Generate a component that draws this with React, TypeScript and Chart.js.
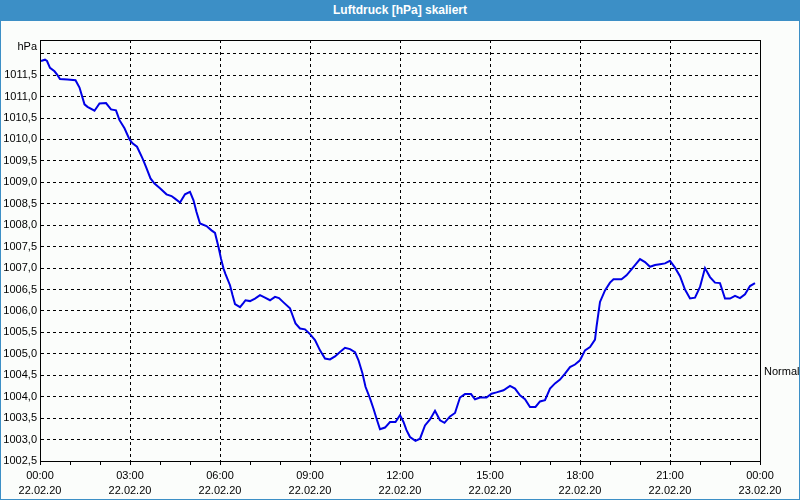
import React, { useEffect, useRef } from 'react';
import { Chart, registerables } from 'chart.js';

Chart.register(...registerables);

const TITLE = 'Luftdruck [hPa] skaliert';
const UNIT = 'hPa';
const NORMAL_LABEL = 'Normal';
const NORMAL_VALUE = 1004.57;
const Y_MIN = 1002.5;
const Y_MAX = 1012.32;
const Y_STEP = 0.5;

const timeLabels = ['00:00', '03:00', '06:00', '09:00', '12:00', '15:00', '18:00', '21:00', '00:00'];
const dateLabels = ['22.02.20', '22.02.20', '22.02.20', '22.02.20', '22.02.20', '22.02.20', '22.02.20', '22.02.20', '23.02.20'];

// minutes since 22.02.20 00:00
const minutes = [
  2, 10, 14, 20, 29, 35, 40, 55, 71, 79, 89, 95, 109, 119, 132, 142, 152, 159, 169, 179,
  185, 194, 205, 212, 221, 229, 240, 253, 263, 270, 280, 290, 300, 307, 313, 320, 333, 343, 350, 357,
  362, 367, 371, 380, 385, 390, 400, 407, 411, 420, 430, 440, 450, 460, 470, 478, 487, 500, 505, 511,
  520, 530, 540, 550, 560, 570, 580, 590, 600, 610, 620, 630, 637, 645, 651, 660, 667, 673, 680, 690,
  700, 711, 720, 727, 733, 740, 751, 760, 770, 780, 790, 800, 809, 820, 830, 840, 850, 862, 870, 880,
  893, 903, 913, 927, 940, 950, 960, 970, 980, 991, 1000, 1010, 1020, 1030, 1040, 1050, 1060, 1070, 1080, 1090,
  1100, 1110, 1113, 1120, 1130, 1140, 1147, 1163, 1173, 1183, 1190, 1200, 1210, 1220, 1230, 1240, 1250, 1260, 1270, 1280,
  1290, 1300, 1310, 1320, 1330, 1340, 1350, 1360, 1370, 1380, 1390, 1400, 1410, 1420, 1430,
];

const pressure = [
  1011.83, 1011.86, 1011.83, 1011.67, 1011.59, 1011.5, 1011.41, 1011.4, 1011.38, 1011.21, 1010.82, 1010.76, 1010.67, 1010.84, 1010.85, 1010.7, 1010.68, 1010.45, 1010.26, 1010.0,
  1009.91, 1009.83, 1009.56, 1009.36, 1009.09, 1008.97, 1008.86, 1008.72, 1008.68, 1008.62, 1008.53, 1008.72, 1008.78, 1008.58, 1008.31, 1008.04, 1007.98, 1007.88, 1007.82, 1007.49,
  1007.22, 1006.99, 1006.86, 1006.6, 1006.37, 1006.16, 1006.09, 1006.19, 1006.25, 1006.23, 1006.29, 1006.37, 1006.31, 1006.25, 1006.33, 1006.3, 1006.2, 1006.06, 1005.9, 1005.71,
  1005.59, 1005.57, 1005.46, 1005.32, 1005.08, 1004.89, 1004.87, 1004.94, 1005.04, 1005.14, 1005.11, 1005.04, 1004.85, 1004.54, 1004.23, 1003.96, 1003.72, 1003.49, 1003.24, 1003.28,
  1003.41, 1003.41, 1003.57, 1003.41, 1003.22, 1003.06, 1002.97, 1003.02, 1003.33, 1003.47, 1003.67, 1003.45, 1003.39, 1003.54, 1003.62, 1003.98, 1004.06, 1004.06, 1003.94, 1003.98,
  1003.98, 1004.07, 1004.1, 1004.15, 1004.25, 1004.19, 1004.03, 1003.94, 1003.76, 1003.76, 1003.89, 1003.92, 1004.19, 1004.31, 1004.4, 1004.54, 1004.69, 1004.75, 1004.85, 1005.08,
  1005.16, 1005.33, 1005.63, 1006.21, 1006.48, 1006.66, 1006.74, 1006.74, 1006.83, 1006.97, 1007.07, 1007.21, 1007.14, 1007.03, 1007.07, 1007.09, 1007.11, 1007.17, 1007.01, 1006.81,
  1006.5, 1006.29, 1006.31, 1006.56, 1007.0, 1006.79, 1006.66, 1006.65, 1006.29, 1006.29, 1006.35, 1006.3, 1006.39, 1006.58, 1006.65,
];

const FONT = 'Liberation Sans';

const framePlugin = {
  id: 'frameAndLabels',
  afterDraw(chart: any) {
    const { ctx, chartArea } = chart;
    const l = Math.round(chartArea.left);
    const t = Math.round(chartArea.top);
    const r = Math.round(chartArea.right);
    const b = Math.round(chartArea.bottom);
    ctx.save();
    ctx.setLineDash([]);
    ctx.strokeStyle = '#000';
    ctx.lineWidth = 1;
    ctx.strokeRect(l + 0.5, t + 0.5, r - l, b - t);
    ctx.fillStyle = '#000';
    ctx.font = `11px "${FONT}"`;
    ctx.textBaseline = 'middle';
    ctx.textAlign = 'right';
    ctx.fillText(UNIT, l - 3, t + 6.5);
    ctx.textAlign = 'left';
    const ny = chart.scales.y.getPixelForValue(NORMAL_VALUE);
    ctx.fillText(NORMAL_LABEL, r + 4, ny);
    ctx.restore();
  },
};

export default function App() {
  const ref = useRef<HTMLCanvasElement>(null);
  useEffect(() => {
    const points = minutes.map((m, i) => ({ x: m, y: pressure[i] }));
    const chart = new Chart(ref.current as HTMLCanvasElement, {
      type: 'line',
      data: {
        datasets: [
          {
            data: points,
            borderColor: '#0000e6',
            borderWidth: 2,
            pointRadius: 0,
            tension: 0,
            fill: false,
          },
        ],
      },
      options: {
        animation: false,
        responsive: false,
        maintainAspectRatio: false,
        layout: { padding: { left: 0, right: 39, top: 19, bottom: 0 } },
        plugins: { legend: { display: false }, tooltip: { enabled: false }, title: { display: false } },
        scales: {
          x: {
            type: 'linear',
            min: 0,
            max: 1440,
            afterFit: (s: any) => {
              s.height = 38;
            },
            ticks: {
              stepSize: 60,
              autoSkip: false,
              maxRotation: 0,
              minRotation: 0,
              padding: 3,
              color: '#000',
              font: { family: FONT, size: 11, lineHeight: 1.4 },
              callback: (v: any) => {
                const n = Number(v);
                if (n % 180 !== 0) return '';
                const i = n / 180;
                return [timeLabels[i], dateLabels[i]];
              },
            },
            grid: {
              color: (c: any) => (c.tick && c.tick.value % 180 === 0 ? '#000' : 'rgba(0,0,0,0)'),
              lineWidth: 1,
              tickColor: '#000',
              tickLength: 4,
              tickBorderDash: [],
              drawOnChartArea: true,
            },
            border: { display: true, color: '#000', dash: [3, 3] },
          },
          y: {
            min: Y_MIN,
            max: Y_MAX,
            afterFit: (s: any) => {
              s.width = 39;
            },
            afterBuildTicks: (s: any) => {
              s.ticks = s.ticks.filter((t: any) => Math.abs(t.value / Y_STEP - Math.round(t.value / Y_STEP)) < 1e-6);
            },
            ticks: {
              stepSize: Y_STEP,
              padding: 3,
              color: '#000',
              font: { family: FONT, size: 11 },
              callback: (v: any) => (Number(v) >= 1012 ? '' : Number(v).toFixed(1).replace('.', ',')),
            },
            grid: { color: '#000', lineWidth: 1, drawTicks: false, tickLength: 0 },
            border: { display: true, color: '#000', dash: [3, 3] },
          },
        },
      },
      plugins: [framePlugin],
    });
    return () => chart.destroy();
  }, []);

  return (
    <div
      style={{
        position: 'fixed',
        left: 0,
        top: 0,
        width: 800,
        height: 500,
        background: '#3c8fc6',
        overflow: 'hidden',
      }}
    >
      <div
        style={{
          position: 'absolute',
          left: 0,
          top: 0,
          width: 800,
          height: 20,
          lineHeight: '20px',
          textAlign: 'center',
          color: '#fff',
          fontFamily: FONT,
          fontWeight: 'bold',
          fontSize: 12,
        }}
      >
        {TITLE}
      </div>
      <div
        style={{
          position: 'absolute',
          left: 1,
          top: 21,
          width: 798,
          height: 478,
          background: '#fbfdfb',
        }}
      >
        <canvas ref={ref} width={798} height={478} style={{ display: 'block', width: 798, height: 478 }} />
      </div>
    </div>
  );
}
